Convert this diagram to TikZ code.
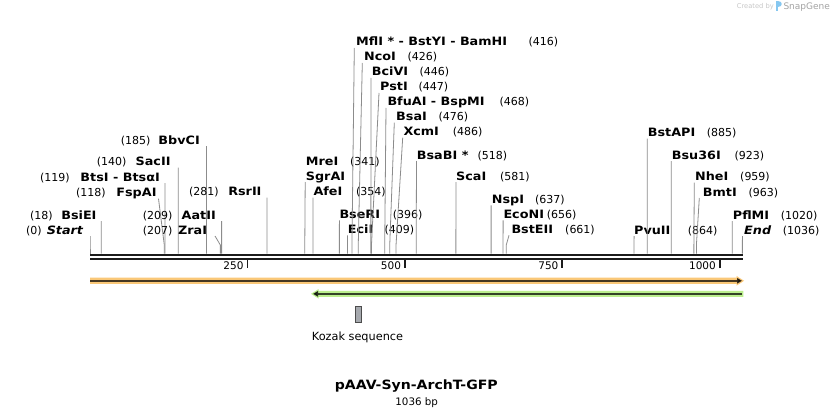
\documentclass[tikz,border=0pt]{standalone}
\usepackage{fontspec}
\setmainfont{DejaVu Sans}
\newfontfamily\enzfont[FakeStretch=1.11,BoldFont={DejaVu Sans Bold},BoldItalicFont={DejaVu Sans Bold Oblique},ItalicFont={DejaVu Sans Oblique}]{DejaVu Sans}
\newfontfamily\ttlfont[FakeStretch=1.1,BoldFont={DejaVu Sans Bold}]{DejaVu Sans}
\usetikzlibrary{arrows.meta}
\definecolor{cutgray}{HTML}{8C8C8C}
\definecolor{barblack}{HTML}{1C1C1C}
\definecolor{orangeband}{HTML}{FAC878}
\definecolor{greenband}{HTML}{BCEF8E}
\definecolor{kozakfill}{HTML}{A6A9AE}
\definecolor{wmlight}{HTML}{C8C8C8}
\definecolor{wmdark}{HTML}{A4A4A4}
\definecolor{snapblue}{HTML}{86C7F0}
\tikzset{
  enz/.style={inner sep=0pt, font=\enzfont\bfseries\fontsize{11.5}{12}\selectfont},
  enzit/.style={inner sep=0pt, font=\enzfont\bfseries\itshape\fontsize{11.5}{12}\selectfont},
  num/.style={inner sep=0pt, font=\fontsize{11}{12}\selectfont},
  ticklbl/.style={inner sep=0pt, font=\fontsize{10.5}{12}\selectfont},
  cut/.style={draw=cutgray, line width=0.8pt},
  bar/.style={draw=barblack, line width=2.6pt},
  tickmark/.style={draw=barblack, line width=1.7pt},
  featline/.style={draw=black, opacity=0.72, line width=2pt},
}
% right-side label: id, name, number, name left x, baseline, number left x, line top x, bp
\newcommand{\siteR}[8]{%
  \node[enz, anchor=base west] (#1) at (#4,#5) {#2};
  \node[num, anchor=base west] (#1n) at (#6,#5) {#3};
  \coordinate (#1t) at (#7,#5+2);
  \coordinate (#1k) at ({90+0.6297*#8},245);
  \coordinate (#1s) at ({90+0.6297*#8},253.6);
  \draw[cut] (#1t) -- (#1k) -- (#1s);
}
% left-side label: id, name, number, name right x, baseline, number left x, line top x, bp
\newcommand{\siteL}[8]{%
  \node[enz, anchor=base east] (#1) at (#4,#5) {#2};
  \node[num, anchor=base west] (#1n) at (#6,#5) {#3};
  \coordinate (#1t) at (#7,#5+2);
  \coordinate (#1k) at ({90+0.6297*#8},245);
  \coordinate (#1s) at ({90+0.6297*#8},253.6);
  \draw[cut] (#1t) -- (#1k) -- (#1s);
}
\begin{document}
\begin{tikzpicture}[x=1pt,y=-1pt]
\fill[white] (0,0) rectangle (834,417);
\useasboundingbox (0,0) rectangle (834,417);

% watermark
\node[inner sep=0pt, anchor=base west, text=wmlight, font=\fontsize{6.7}{8}\selectfont] (wm1) at (736.7,8.3) {Created by};
\fill[snapblue] (776.3,1.3) rectangle (778.2,11);
\fill[snapblue] (778.2,1.3) .. controls (782.6,1.3) and (782.6,7.2) .. (778.2,7.2) -- cycle;
\node[inner sep=0pt, anchor=base west, text=wmdark, font=\fontsize{9}{10}\selectfont] (wm2) at (783.3,10) {SnapGene};

% left-side enzymes
\siteL{sta}{}{(0)}{83.3}{234}{26}{90}{0}
\node[enzit, anchor=base east] (staname) at (83.3,234) {Start};
\siteL{bsi}{BsiEI}{(18)}{96.7}{219}{30}{101.3}{18}
\siteL{fsp}{FspAI}{(118)}{156.7}{196.7}{76}{158.5}{118}
\siteL{bts}{BtsI - BtsαI}{(119)}{160}{181}{40}{164.9}{119}
\siteL{sac}{SacII}{(140)}{170.7}{165.7}{96.7}{178.2}{140}
\siteL{bbv}{BbvCI}{(185)}{200}{144}{120.7}{206.5}{185}
\siteL{aat}{AatII}{(209)}{216}{219}{142.7}{221.6}{209}
\siteL{zra}{ZraI}{(207)}{207.3}{234}{142.7}{215}{207}
\siteL{rsr}{RsrII}{(281)}{261.7}{195.7}{189}{267}{281}

% MreI / SgrAI pair
\node[enz, anchor=base west] (mre) at (305.7,165) {MreI};
\node[num, anchor=base west] (mren) at (350,165) {(341)};
\node[enz, anchor=base west] (sgr) at (305.7,180) {SgrAI};
\coordinate (sgrt) at (305.2,182);
\coordinate (sgrs) at ({90+0.6297*341},253.6);
\draw[cut] (sgrt) -- (sgrs);

% right-side enzymes
\siteR{afe}{AfeI}{(354)}{313.3}{195.7}{356}{313}{354}
\siteR{bse}{BseRI}{(396)}{339.3}{218.3}{392.7}{339.4}{396}
\siteR{eci}{EciI}{(409)}{347.7}{233.3}{384.3}{347.5}{409}
\siteR{mfl}{MflI * - BstYI - BamHI}{(416)}{356}{46}{528.3}{354.3}{416}
\siteR{nco}{NcoI}{(426)}{364}{61}{407.3}{362.3}{426}
\siteR{bci}{BciVI}{(446)}{371.7}{76}{419.3}{371}{446}
\siteR{pst}{PstI}{(447)}{380}{91}{418.3}{379}{447}
\siteR{bfu}{BfuAI - BspMI}{(468)}{387.3}{106}{499.3}{386}{468}
\siteR{bsa}{BsaI}{(476)}{396}{120.7}{438.3}{394.3}{476}
\siteR{xcm}{XcmI}{(486)}{403.3}{135.7}{452.7}{402.7}{486}
\siteR{bsb}{BsaBI *}{(518)}{416.7}{159}{477.3}{416.5}{518}
\siteR{sca}{ScaI}{(581)}{456}{180}{500}{456}{581}
\siteR{nsp}{NspI}{(637)}{491.7}{203.3}{535}{491.1}{637}
\siteR{eco}{EcoNI}{(656)}{503.3}{218.3}{546.7}{503.1}{656}
\siteR{bst}{BstEII}{(661)}{511.3}{233.3}{565}{509}{661}
\siteR{pvu}{PvuII}{(864)}{634}{234}{687.7}{634.1}{864}
\siteR{bap}{BstAPI}{(885)}{647.7}{136.7}{706.7}{647.3}{885}
\siteR{b36}{Bsu36I}{(923)}{671.7}{159}{734.3}{671.2}{923}
\siteR{nhe}{NheI}{(959)}{695}{180.7}{740}{694.3}{959}
\siteR{bmt}{BmtI}{(963)}{702.7}{196}{748.3}{699.3}{963}
\siteR{pfl}{PflMI}{(1020)}{732.7}{219}{780.7}{732.3}{1020}
\siteR{end}{}{(1036)}{744}{234}{782.7}{742.4}{1036}
\node[enzit, anchor=base west] (endname) at (744,234) {End};

% sequence bar
\coordinate (barL1) at (90,255);
\coordinate (barR1) at (743,255);
\coordinate (barL2) at (90,258.8);
\coordinate (barR2) at (743,258.8);
\draw[bar] (barL1) -- (barR1);
\draw[bar, line width=2.4pt] (barL2) -- (barR2);

% ticks
\foreach \v in {250,500,750,1000} {
  \coordinate (tk\v) at ({90+0.6297*\v},259.5);
  \coordinate (tb\v) at ({90+0.6297*\v},267.5);
  \draw[tickmark] (tk\v) -- (tb\v);
  \node[ticklbl, anchor=base east] (tl\v) at ({90+0.6297*\v-3.7},269.6) {\v};
}

% features
\fill[orangeband] (90,277.7) -- (736.5,277.7) -- (736.5,275.9) -- (744,280.8) -- (736.5,285.7) -- (736.5,283.9) -- (90,283.9) -- cycle;
\coordinate (orA) at (90,280.8);
\coordinate (orB) at (742,280.8);
\draw[featline, -{Triangle[length=5pt,width=5.5pt]}] (orA) -- (orB);

\fill[greenband] (743.3,290.9) -- (318.5,290.9) -- (318.5,289.1) -- (311,293.85) -- (318.5,298.6) -- (318.5,296.8) -- (743.3,296.8) -- cycle;
\coordinate (grA) at (742,293.85);
\coordinate (grB) at (313,293.85);
\draw[featline, -{Triangle[length=5pt,width=5.5pt]}] (grA) -- (grB);

% Kozak sequence
\node[draw=black!70, fill=kozakfill, line width=0.6pt, minimum width=6.5pt, minimum height=15.5pt, inner sep=0pt] (kozak) at (358.2,314.2) {};
\node[inner sep=0pt, anchor=base, font=\fontsize{11.3}{12}\selectfont] (kozaklbl) at (357.5,340) {Kozak sequence};

% title
\node[inner sep=0pt, anchor=base, font=\ttlfont\bfseries\fontsize{12.8}{14}\selectfont] (title) at (416.3,389.3) {pAAV-Syn-ArchT-GFP};
\node[inner sep=0pt, anchor=base, font=\fontsize{10.3}{12}\selectfont] (bp) at (416.7,405.5) {1036 bp};
\end{tikzpicture}
\end{document}
